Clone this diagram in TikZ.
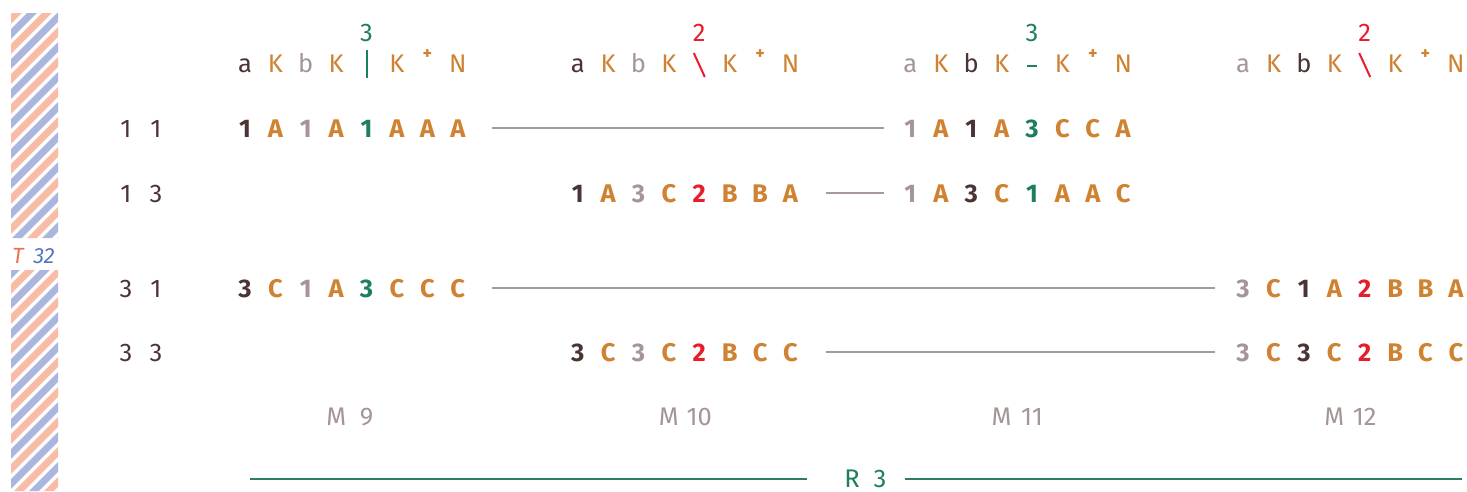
\documentclass[tikz,border=0pt]{standalone}
\usepackage{fontspec}
\setmainfont{Fira Sans}
\definecolor{cDark}{HTML}{4B3434}
\definecolor{cOrange}{HTML}{CF8232}
\definecolor{cGrey}{HTML}{A59595}
\definecolor{cGreen}{HTML}{1E7F5E}
\definecolor{cRed}{HTML}{E81C2A}
\definecolor{cConn}{HTML}{A89A9A}
\definecolor{cRline}{HTML}{2F7D63}
\definecolor{cStripeS}{HTML}{F7BBA6}
\definecolor{cStripeB}{HTML}{AAB6DE}
\definecolor{cT}{HTML}{EE6E55}
\definecolor{cTn}{HTML}{5577BF}
\newcommand\seqrow[4]{%
  \foreach \ch/\col [count=\i] in {#4} {%
    \node[seq,text=\col] (#1-\i) at ({245+332.7*#2+30.4*(\i-1)},#3) {\ch};}}
\begin{document}
\begin{tikzpicture}[x=1pt,y=-1pt,
  glyph/.style={inner sep=0pt, anchor=base, font=\fontsize{25.5}{25.5}\selectfont},
  seq/.style={inner sep=0pt, anchor=base, font=\fontsize{25.5}{25.5}\selectfont\bfseries},
  supplus/.style={inner sep=0pt, anchor=center, text=cOrange, font=\fontsize{18}{18}\selectfont\bfseries},
  lab/.style={glyph, text=cDark},
  mlab/.style={glyph, text=cGrey},
  tlab/.style={inner sep=0pt, anchor=base, font=\fontsize{22}{22}\selectfont\itshape},
  conn/.style={draw=cConn, line width=2pt},
  rline/.style={draw=cRline, line width=2pt},
  markG/.style={draw=cGreen, line width=2pt},
  markR/.style={draw=cRed, line width=2pt},
  stripeS/.style={draw=cStripeS, line width=7pt},
  stripeB/.style={draw=cStripeB, line width=7pt}]
\useasboundingbox (0,0) rectangle (1467,491);

% striped side bar
\begin{scope}
  \clip (11,13) rectangle (58,238) (11,270) rectangle (58,491);
  \foreach \c in {0,30,...,570} {
    \draw[stripeS] (\c,0) -- (\c-520,520);
    \draw[stripeB] (\c+15,0) -- (\c+15-520,520);
  }
\end{scope}
\node[tlab, text=cT] (tT) at (18,263) {T};
\node[tlab, text=cTn] (t32) at (44,263) {32};

% headers, marks numbers and M labels
\foreach \k/\ac/\bc/\nc/\num/\mn in {0/cDark/cGrey/cGreen/3/9, 1/cDark/cGrey/cRed/2/10, 2/cGrey/cDark/cGreen/3/11, 3/cGrey/cDark/cRed/2/12} {
  \pgfmathsetmacro{\bx}{245+332.7*\k}
  \node[glyph, text=\ac] (h\k-1) at (\bx,72) {a};
  \node[glyph, text=cOrange] (h\k-2) at (\bx+30.4,72) {K};
  \node[glyph, text=\bc] (h\k-3) at (\bx+60.8,72) {b};
  \node[glyph, text=cOrange] (h\k-4) at (\bx+91.2,72) {K};
  \node[glyph, text=cOrange] (h\k-6) at (\bx+152,72) {K};
  \node[supplus] (h\k-7) at (\bx+182.4,55) {+};
  \node[glyph, text=cOrange] (h\k-8) at (\bx+212.8,72) {N};
  \node[glyph, text=\nc] (n\k) at (\bx+121.6,41) {\num};
  \node[mlab] (m\k) at (\bx+91.2,425) {M};
  \node[mlab] (mn\k) at (\bx+121.6,425) {\mn};
}
\draw[markG] (367,50) -- (367,78);
\draw[markR] (693.8,53) -- (704.8,77);
\draw[markG] (1027,66) -- (1037,66);
\draw[markR] (1359.2,53) -- (1370.2,77);

% row labels
\node[lab] (l1a) at (126,137) {1}; \node[lab] (l1b) at (156,137) {1};
\node[lab] (l2a) at (126,202) {1}; \node[lab] (l2b) at (156,202) {3};
\node[lab] (l3a) at (126,297) {3}; \node[lab] (l3b) at (156,297) {1};
\node[lab] (l4a) at (126,361) {3}; \node[lab] (l4b) at (156,361) {3};

% sequences
\seqrow{ra}{0}{137}{1/cDark,A/cOrange,1/cGrey,A/cOrange,1/cGreen,A/cOrange,A/cOrange,A/cOrange}
\seqrow{rb}{2}{137}{1/cGrey,A/cOrange,1/cDark,A/cOrange,3/cGreen,C/cOrange,C/cOrange,A/cOrange}
\seqrow{rc}{1}{202}{1/cDark,A/cOrange,3/cGrey,C/cOrange,2/cRed,B/cOrange,B/cOrange,A/cOrange}
\seqrow{rd}{2}{202}{1/cGrey,A/cOrange,3/cDark,C/cOrange,1/cGreen,A/cOrange,A/cOrange,C/cOrange}
\seqrow{re}{0}{297}{3/cDark,C/cOrange,1/cGrey,A/cOrange,3/cGreen,C/cOrange,C/cOrange,C/cOrange}
\seqrow{rf}{3}{297}{3/cGrey,C/cOrange,1/cDark,A/cOrange,2/cRed,B/cOrange,B/cOrange,A/cOrange}
\seqrow{rg}{1}{361}{3/cDark,C/cOrange,3/cGrey,C/cOrange,2/cRed,B/cOrange,C/cOrange,C/cOrange}
\seqrow{rh}{3}{361}{3/cGrey,C/cOrange,3/cDark,C/cOrange,2/cRed,B/cOrange,C/cOrange,C/cOrange}

% connectors
\draw[conn, shorten <=34pt, shorten >=26pt] (ra-8.center) -- (ra-8.center -| rb-1.center);
\draw[conn, shorten <=35pt, shorten >=26pt] (rc-8.center) -- (rc-8.center -| rd-1.center);
\draw[conn, shorten <=34pt, shorten >=28pt] (re-8.center) -- (re-8.center -| rf-1.center);
\draw[conn, shorten <=35pt, shorten >=28pt] (rg-8.center) -- (rg-8.center -| rh-1.center);

% R 3 bar
\node[glyph, text=cGreen] (rR) at (852,487) {R};
\node[glyph, text=cGreen] (r3) at (880,487) {3};
\coordinate (rL) at (250,479);
\coordinate (rE) at (1462,479);
\draw[rline, shorten >=37pt] (rL) -- (rL -| rR.west);
\draw[rline, shorten <=18pt] (rE -| r3.east) -- (rE);
\end{tikzpicture}
\end{document}
